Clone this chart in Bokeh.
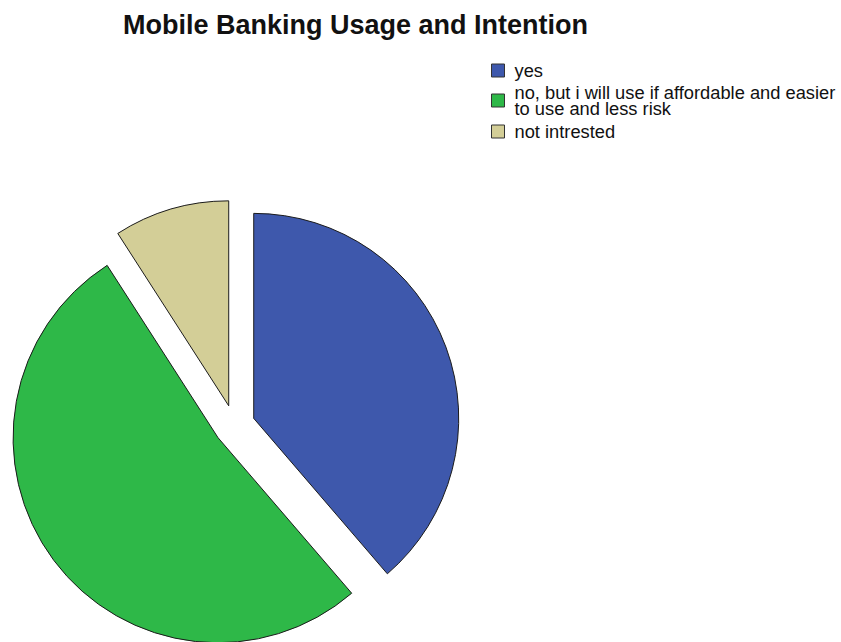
import math
from bokeh.plotting import figure
from bokeh.models import Range1d, ColumnDataSource
from bokeh.core.properties import value
from bokeh.embed import file_html
from bokeh.resources import INLINE

# ---- data ----
title_text = "Mobile Banking Usage and Intention"
categories = ["yes",
              "no, but i will use if affordable and easier\nto use and less risk",
              "not intrested"]
percents = [38.7, 52.2, 9.1]
colors = ["#3E58AC", "#2EB848", "#D3CE97"]

# ---- layout ----
W, H = 841, 642
cx, cy = 234, H - 425      # pie centre (data coords, y up)
R = 205
EXPLODE = 20.5

p = figure(width=W, height=H, x_range=Range1d(0, W), y_range=Range1d(0, H),
           output_backend="svg", toolbar_location=None, min_border=0)
p.axis.visible = False
p.grid.visible = False
p.outline_line_color = None
p.background_fill_color = "white"
p.border_fill_color = "white"

total = sum(percents)
xs, ys, starts, ends = [], [], [], []
acc = 0.0
for v in percents:
    a = acc / total * 2 * math.pi          # clockwise from 12 o'clock
    b = (acc + v) / total * 2 * math.pi
    mid = (a + b) / 2
    xs.append(cx + EXPLODE * math.sin(mid))
    ys.append(cy + EXPLODE * math.cos(mid))
    starts.append(math.pi / 2 - b)
    ends.append(math.pi / 2 - a)
    acc += v

src = ColumnDataSource(dict(x=xs, y=ys, start=starts, end=ends, color=colors,
                            label=categories))
p.wedge(x="x", y="y", radius=R, start_angle="start", end_angle="end",
        fill_color="color", line_color="#1b1b1b", line_width=1, source=src)

# ---- title ----
p.text(x=[355], y=[H - 24], text=[title_text], text_font=value("Liberation Sans"),
       text_font_size="27px", text_font_style="bold", text_align="center",
       text_baseline="middle", text_color="#111111")

# ---- legend ----
row_y = [H - 70, H - 100, H - 131]
lsrc = ColumnDataSource(dict(x=[497.5] * 3, tx=[514] * 3, y=row_y, color=colors,
                             label=categories))
p.rect(x="x", y="y", width=13, height=13, fill_color="color", line_color="#333333",
       line_width=1, source=lsrc)
p.text(x="tx", y="y", text="label", text_font=value("Liberation Sans"),
       text_font_size="18.3px", text_baseline="middle", text_align="left",
       text_line_height=0.78, text_color="#111111", source=lsrc)

open("out.html", "w").write(file_html(p, INLINE))
